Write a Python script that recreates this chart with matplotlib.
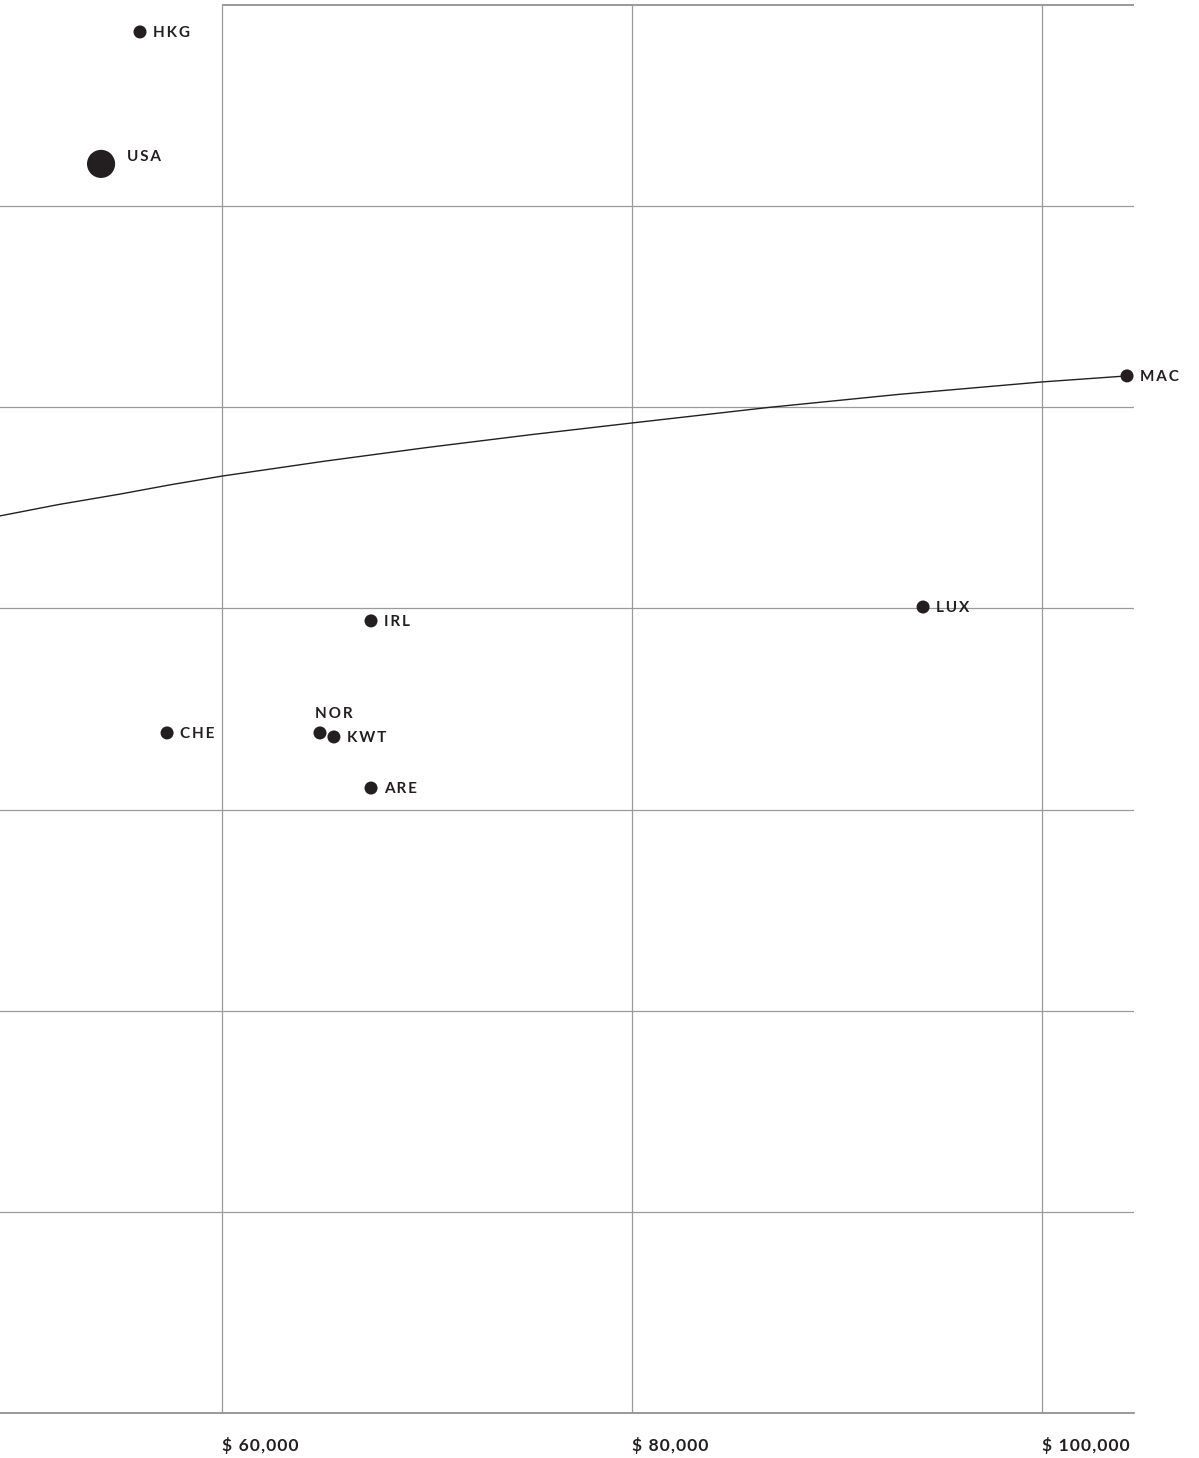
import numpy as np
import matplotlib.pyplot as plt

# GDP per capita (x) vs. an unlabelled y measure
countries = ['HKG', 'USA', 'MAC', 'LUX', 'IRL', 'CHE', 'NOR', 'KWT', 'ARE']
gdp = [56000, 54100, 104150, 94200, 67270, 57320, 64780, 65460, 67270]
yval = [6.866, 6.210, 5.156, 4.007, 3.938, 3.381, 3.381, 3.361, 3.107]
dot_size = [88, 410, 88, 88, 88, 88, 88, 88, 88]

# label offsets in pixels (dx, dy)
label_offset = {
    'USA': (26, 7),
    'NOR': (-5, 19),
}

# trend curve
trend_x = [49170, 52000, 55000, 57500, 60000, 65000, 70000, 75000, 80000,
           86730, 93000, 100000, 104150]
trend_y = [4.460, 4.516, 4.568, 4.615, 4.658, 4.732, 4.800, 4.863, 4.922,
           5.000, 5.064, 5.126, 5.156]

xticks = [60000, 80000, 100000]
xticklabels = ['$ ' + '{:,}'.format(v) for v in xticks]

ink = '#231f20'
grid_col = '#9a9a9a'
font = ['Lato', 'DejaVu Sans']

def spaced(s, sep='\u2009'):
    return sep.join(s)

fig = plt.figure(figsize=(11.99, 14.58), dpi=100)
ax = fig.add_axes([0, 45 / 1458, 1134 / 1199, 1408 / 1458])
ax.set_xlim(49170, 104490)
ax.set_ylim(0, 7)

for s in ['top', 'left', 'right']:
    ax.spines[s].set_visible(False)
ax.spines['bottom'].set_color('#888888')
ax.spines['bottom'].set_linewidth(1.2)

# grid
for gy in range(1, 7):
    ax.axhline(gy, color=grid_col, lw=0.9, zorder=1)
ax.hlines(7, 60000, 104490, color=grid_col, lw=1.4, zorder=1, clip_on=False)
for gx in xticks:
    ax.axvline(gx, color=grid_col, lw=0.9, zorder=1)

ax.plot(trend_x, trend_y, color=ink, lw=1.0, zorder=2)
ax.scatter(gdp, yval, s=dot_size, color=ink, zorder=3, linewidths=0)

for c, x, y in zip(countries, gdp, yval):
    dx, dy = label_offset.get(c, (13, -1))
    ax.annotate(spaced(c), (x, y), xytext=(dx, dy), textcoords='offset pixels',
                ha='left', va='center', fontsize=11, fontweight='bold',
                family=font, color=ink, annotation_clip=False, zorder=4)

ax.set_yticks([])
ax.set_xticks(xticks)
ax.set_xticklabels([spaced(t, '\u200a') for t in xticklabels], ha='left',
                   fontsize=12.5, fontweight='bold', family=font, color=ink)
ax.tick_params(axis='x', length=0, pad=17)

fig.savefig('out.png', dpi=100)
